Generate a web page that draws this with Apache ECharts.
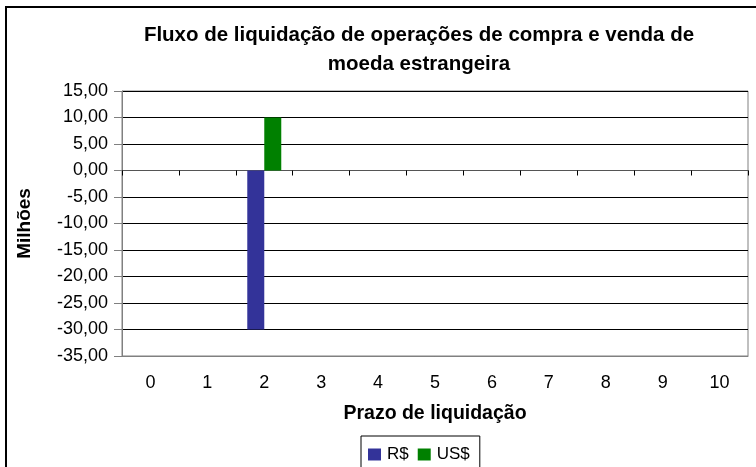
<!DOCTYPE html>
<html><head><meta charset="utf-8">
<script src="https://cdn.jsdelivr.net/npm/echarts@6/dist/echarts.min.js"></script>
<style>html,body{margin:0;padding:0;background:#fff}#c{width:756px;height:467px}</style>
</head><body><div id="c"></div>
<script>
const categories = ['0','1','2','3','4','5','6','7','8','9','10'];
const seriesRS = [null,null,-30,null,null,null,null,null,null,null,null];
const seriesUS = [null,null,10,null,null,null,null,null,null,null,null];
const titleLines = ['Fluxo de liquidação de operações de compra e venda de','moeda estrangeira'];
const fmt = v => v.toFixed(2).replace('.', ',');
const chart = echarts.init(document.getElementById('c'));
const F = 'Liberation Sans, Arial, sans-serif';
chart.setOption({
  animation:false,
  graphic:[
    {type:'rect',shape:{x:6,y:7,width:800,height:500},style:{fill:'none',stroke:'#000',lineWidth:2},silent:true},
    {type:'text',x:419,y:35,style:{text:titleLines[0],font:'bold 20.5px '+F,fill:'#000',textAlign:'center',textVerticalAlign:'middle'}},
    {type:'text',x:419,y:64,style:{text:titleLines[1],font:'bold 20.5px '+F,fill:'#000',textAlign:'center',textVerticalAlign:'middle'}}
  ],
  grid:{left:122,right:8,top:91,bottom:111,show:true,borderColor:'#808080',borderWidth:1,backgroundColor:'transparent'},
  legend:{top:436,left:361,itemWidth:13,itemHeight:12,itemGap:9,icon:'rect',
    padding:[10,10,20,7],borderColor:'#000',borderWidth:1,borderRadius:0,
    textStyle:{fontFamily:F,fontSize:17,color:'#000',padding:[0,0,0,1]},
    data:['R$','US$']},
  xAxis:[{type:'category',data:categories,position:'bottom',
    axisLine:{onZero:false,show:true,lineStyle:{color:'#808080'}},axisTick:{show:false},
    axisLabel:{margin:18,fontFamily:F,fontSize:18,color:'#000'},
    name:'Prazo de liquidação',nameLocation:'middle',nameGap:48,
    nameTextStyle:{fontFamily:F,fontSize:19.5,fontWeight:'bold',color:'#000'}},
    {type:'category',data:categories,position:'top',
    axisLine:{onZero:true,show:true,lineStyle:{color:'#555'}},
    axisTick:{show:true,inside:true,length:5,lineStyle:{color:'#000'}},axisLabel:{show:false}}],
  yAxis:{type:'value',min:-35,max:15,interval:5,
    axisLine:{show:true,lineStyle:{color:'#808080'}},axisTick:{show:true,length:8,lineStyle:{color:'#808080'}},
    splitLine:{show:true,lineStyle:{color:'#000'}},
    axisLabel:{formatter:fmt,fontFamily:F,fontSize:18,color:'#000',margin:14},
    name:'Milhões',nameLocation:'middle',nameGap:88,
    nameTextStyle:{fontFamily:F,fontSize:19,fontWeight:'bold',color:'#000'}},
  series:[
    {name:'R$',type:'bar',data:seriesRS,barWidth:17,barGap:'0%',itemStyle:{color:'#333399'}},
    {name:'US$',type:'bar',data:seriesUS,barWidth:17,barGap:'0%',itemStyle:{color:'#008000'}}
  ]
});
</script></body></html>
